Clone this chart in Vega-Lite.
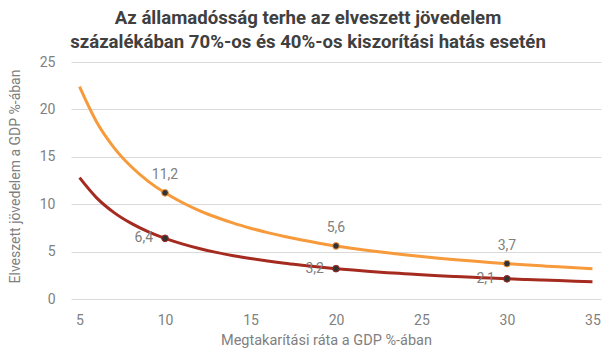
{
  "$schema": "https://vega.github.io/schema/vega-lite/v6.json",
  "width": 530,
  "height": 237,
  "autosize": {"type": "none"},
  "padding": {"left": 71, "top": 62, "right": 15, "bottom": 54},
  "background": "white",
  "config": {
    "font": "Roboto",
    "view": {"stroke": null}
  },
  "title": {
    "text": ["Az államadósság terhe az elveszett jövedelem", "százalékában 70%-os és 40%-os kiszorítási hatás esetén"],
    "fontSize": 18.6,
    "fontWeight": "bold",
    "color": "#404040",
    "font": "Roboto",
    "anchor": "middle",
    "dx": -28,
    "lineHeight": 24,
    "offset": 3
  },
  "data": {
    "values": [
      {"x": 5, "series": "70%", "v": 22.4}, {"x": 6, "series": "70%", "v": 18.67}, {"x": 7, "series": "70%", "v": 16}, {"x": 8, "series": "70%", "v": 14}, {"x": 9, "series": "70%", "v": 12.44},
      {"x": 10, "series": "70%", "v": 11.2, "label": "11,2"}, {"x": 11, "series": "70%", "v": 10.18}, {"x": 12, "series": "70%", "v": 9.33}, {"x": 13, "series": "70%", "v": 8.62}, {"x": 14, "series": "70%", "v": 8},
      {"x": 15, "series": "70%", "v": 7.47}, {"x": 16, "series": "70%", "v": 7}, {"x": 17, "series": "70%", "v": 6.59}, {"x": 18, "series": "70%", "v": 6.22}, {"x": 19, "series": "70%", "v": 5.89},
      {"x": 20, "series": "70%", "v": 5.6, "label": "5,6"}, {"x": 21, "series": "70%", "v": 5.33}, {"x": 22, "series": "70%", "v": 5.09}, {"x": 23, "series": "70%", "v": 4.87}, {"x": 24, "series": "70%", "v": 4.67},
      {"x": 25, "series": "70%", "v": 4.48}, {"x": 26, "series": "70%", "v": 4.31}, {"x": 27, "series": "70%", "v": 4.15}, {"x": 28, "series": "70%", "v": 4}, {"x": 29, "series": "70%", "v": 3.86},
      {"x": 30, "series": "70%", "v": 3.73, "label": "3,7"}, {"x": 31, "series": "70%", "v": 3.61}, {"x": 32, "series": "70%", "v": 3.5}, {"x": 33, "series": "70%", "v": 3.39}, {"x": 34, "series": "70%", "v": 3.29}, {"x": 35, "series": "70%", "v": 3.2},
      {"x": 5, "series": "40%", "v": 12.8}, {"x": 6, "series": "40%", "v": 10.67}, {"x": 7, "series": "40%", "v": 9.14}, {"x": 8, "series": "40%", "v": 8}, {"x": 9, "series": "40%", "v": 7.11},
      {"x": 10, "series": "40%", "v": 6.4, "label": "6,4"}, {"x": 11, "series": "40%", "v": 5.82}, {"x": 12, "series": "40%", "v": 5.33}, {"x": 13, "series": "40%", "v": 4.92}, {"x": 14, "series": "40%", "v": 4.57},
      {"x": 15, "series": "40%", "v": 4.27}, {"x": 16, "series": "40%", "v": 4}, {"x": 17, "series": "40%", "v": 3.76}, {"x": 18, "series": "40%", "v": 3.56}, {"x": 19, "series": "40%", "v": 3.37},
      {"x": 20, "series": "40%", "v": 3.2, "label": "3,2"}, {"x": 21, "series": "40%", "v": 3.05}, {"x": 22, "series": "40%", "v": 2.91}, {"x": 23, "series": "40%", "v": 2.78}, {"x": 24, "series": "40%", "v": 2.67},
      {"x": 25, "series": "40%", "v": 2.56}, {"x": 26, "series": "40%", "v": 2.46}, {"x": 27, "series": "40%", "v": 2.37}, {"x": 28, "series": "40%", "v": 2.29}, {"x": 29, "series": "40%", "v": 2.21},
      {"x": 30, "series": "40%", "v": 2.13, "label": "2,1"}, {"x": 31, "series": "40%", "v": 2.06}, {"x": 32, "series": "40%", "v": 2}, {"x": 33, "series": "40%", "v": 1.94}, {"x": 34, "series": "40%", "v": 1.88}, {"x": 35, "series": "40%", "v": 1.83}
    ]
  },
  "encoding": {
    "x": {
      "field": "x", "type": "quantitative",
      "scale": {"domain": [4.5, 35.5], "nice": false, "zero": false},
      "axis": {
        "title": "Megtakarítási ráta a GDP %-ában",
        "values": [5, 10, 15, 20, 25, 30, 35],
        "grid": false, "domain": false, "ticks": false,
        "labelFontSize": 14, "labelColor": "#7f7f7f", "labelPadding": 14,
        "titleFontSize": 14.5, "titleColor": "#7f7f7f", "titleFontWeight": "normal", "titlePadding": 6,
        "titleX": 255
      }
    },
    "y": {
      "field": "v", "type": "quantitative",
      "scale": {"domain": [0, 25], "nice": false},
      "axis": {
        "title": "Elveszett jövedelem a GDP %-ában",
        "values": [0, 5, 10, 15, 20, 25],
        "domain": false, "ticks": false,
        "gridColor": "#d9d9d9", "gridWidth": 1,
        "labelFontSize": 14, "labelColor": "#7f7f7f", "labelPadding": 16,
        "titleFontSize": 14, "titleColor": "#7f7f7f", "titleFontWeight": "normal", "titlePadding": 17,
        "titleY": 114
      }
    }
  },
  "layer": [
    {
      "mark": {"type": "line", "strokeWidth": 3, "interpolate": "monotone"},
      "encoding": {
        "color": {
          "field": "series", "type": "nominal",
          "scale": {"domain": ["70%", "40%"], "range": ["#F79A3B", "#A52A1F"]},
          "legend": null
        }
      }
    },
    {
      "transform": [{"filter": "datum.label != null"}],
      "mark": {"type": "circle", "size": 45, "color": "#333333", "opacity": 1},
      "encoding": {
        "stroke": {
          "field": "series", "type": "nominal",
          "scale": {"domain": ["70%", "40%"], "range": ["#F79A3B", "#A52A1F"]},
          "legend": null
        },
        "strokeWidth": {"value": 1}
      }
    },
    {
      "transform": [{"filter": "datum.label != null && datum.series == '70%'"}],
      "mark": {"type": "text", "fontSize": 14, "color": "#7f7f7f", "dy": -18, "align": "center", "baseline": "middle"},
      "encoding": {"text": {"field": "label"}}
    },
    {
      "transform": [{"filter": "datum.label != null && datum.series == '40%'"}],
      "mark": {"type": "text", "fontSize": 14, "color": "#7f7f7f", "dx": -12, "dy": 0, "align": "right", "baseline": "middle"},
      "encoding": {"text": {"field": "label"}}
    }
  ]
}
